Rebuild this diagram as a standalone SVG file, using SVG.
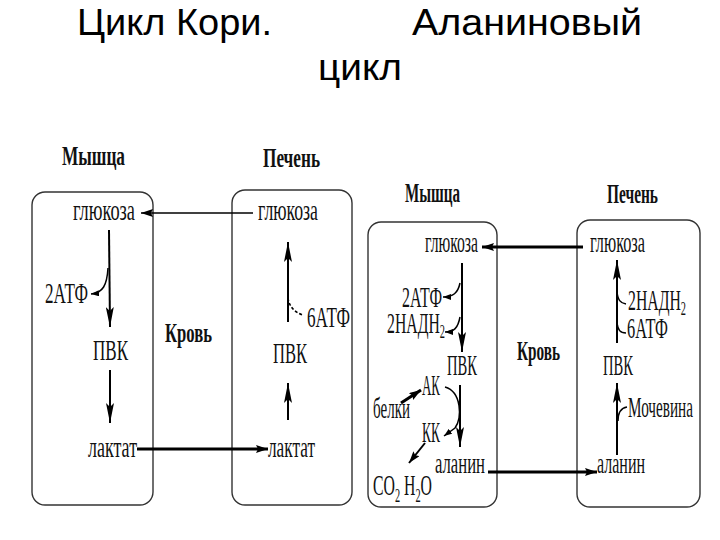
<svg xmlns="http://www.w3.org/2000/svg" width="720" height="540" viewBox="0 0 720 540">
<style>
.title{font-family:"Liberation Sans",Arial,sans-serif;font-size:36px;fill:#000}
.t{font-family:"Liberation Serif","Times New Roman",serif;font-size:29px;fill:#111}
.h{font-family:"Liberation Serif","Times New Roman",serif;font-size:28px;font-weight:bold;fill:#111}
.box{fill:none;stroke:#333;stroke-width:1.4}
.ln{fill:none;stroke:#000;stroke-width:2}
.thin{fill:none;stroke:#000;stroke-width:1.5}
.thick{fill:none;stroke:#000;stroke-width:3}
.sub{font-size:19px}
</style>
<defs>
<marker id="a1" viewBox="0 0 20 8" refX="20" refY="4" markerWidth="20" markerHeight="8" markerUnits="userSpaceOnUse" orient="auto"><path d="M0,0 L20,4 L0,8 L4,4 z" fill="#000"/></marker>
<marker id="a2" viewBox="0 0 12 8" refX="12" refY="4" markerWidth="12" markerHeight="8" markerUnits="userSpaceOnUse" orient="auto"><path d="M0,0 L12,4 L0,8 L2,4 z" fill="#000"/></marker>
<marker id="a3" viewBox="0 0 8 6" refX="8" refY="3" markerWidth="8" markerHeight="6" markerUnits="userSpaceOnUse" orient="auto"><path d="M0,0 L8,3 L0,6 z" fill="#000"/></marker>
</defs>
<rect width="720" height="540" fill="#fff"/>
<g id="title">
<text class="title" x="77" y="35" textLength="195" lengthAdjust="spacingAndGlyphs">Цикл Кори.</text>
<text class="title" x="412" y="35" textLength="230" lengthAdjust="spacingAndGlyphs">Аланиновый</text>
<text class="title" x="318" y="80" textLength="84" lengthAdjust="spacingAndGlyphs">цикл</text>
</g>
<!-- Cori cycle -->
<g id="cori-muscle">
<text class="h" x="62" y="165" textLength="63" lengthAdjust="spacingAndGlyphs">Мышца</text>
<rect class="box" x="32" y="192" width="121" height="313" rx="13"/>
<text class="t" x="73" y="220" textLength="62" lengthAdjust="spacingAndGlyphs">глюкоза</text>
<text class="t" x="45" y="303" textLength="43" lengthAdjust="spacingAndGlyphs">2АТФ</text>
<text class="t" x="93" y="360" textLength="35" lengthAdjust="spacingAndGlyphs">ПВК</text>
<text class="t" x="88" y="457" textLength="49" lengthAdjust="spacingAndGlyphs">лактат</text>
</g>
<g id="cori-liver">
<text class="h" x="263" y="167" textLength="57" lengthAdjust="spacingAndGlyphs">Печень</text>
<rect class="box" x="232" y="190" width="120" height="315" rx="13"/>
<text class="t" x="258" y="220" textLength="60" lengthAdjust="spacingAndGlyphs">глюкоза</text>
<text class="t" x="307" y="327" textLength="43" lengthAdjust="spacingAndGlyphs">6АТФ</text>
<text class="t" x="273" y="363" textLength="34" lengthAdjust="spacingAndGlyphs">ПВК</text>
<text class="t" x="268" y="457" textLength="47" lengthAdjust="spacingAndGlyphs">лактат</text>
</g>
<g id="cori-blood">
<text class="h" x="165" y="342" textLength="47" lengthAdjust="spacingAndGlyphs">Кровь</text>
</g>
<!-- Alanine cycle -->
<g id="ala-muscle">
<text class="h" x="405" y="202" textLength="55" lengthAdjust="spacingAndGlyphs">Мышца</text>
<rect class="box" x="368" y="222" width="129" height="285" rx="13"/>
<text class="t" x="425" y="252" textLength="53" lengthAdjust="spacingAndGlyphs">глюкоза</text>
<text class="t" x="402" y="307" textLength="40" lengthAdjust="spacingAndGlyphs">2АТФ</text>
<text class="t" x="387" y="333" textLength="58" lengthAdjust="spacingAndGlyphs">2НАДН<tspan class="sub" dy="5">2</tspan></text>
<text class="t" x="447" y="375" textLength="30" lengthAdjust="spacingAndGlyphs">ПВК</text>
<text class="t" x="422" y="395" textLength="18" lengthAdjust="spacingAndGlyphs">АК</text>
<text class="t" x="373" y="418" textLength="37" lengthAdjust="spacingAndGlyphs">белки</text>
<text class="t" x="422" y="442" textLength="18" lengthAdjust="spacingAndGlyphs">КК</text>
<text class="t" x="435" y="473" textLength="50" lengthAdjust="spacingAndGlyphs">аланин</text>
<text class="t" x="373" y="495" textLength="59" lengthAdjust="spacingAndGlyphs">CO<tspan class="sub" dy="7">2</tspan><tspan dy="-7"> H</tspan><tspan class="sub" dy="7">2</tspan><tspan dy="-7">O</tspan></text>
</g>
<g id="ala-liver">
<text class="h" x="607" y="203" textLength="51" lengthAdjust="spacingAndGlyphs">Печень</text>
<rect class="box" x="577" y="220" width="123" height="287" rx="13"/>
<text class="t" x="590" y="252" textLength="55" lengthAdjust="spacingAndGlyphs">глюкоза</text>
<text class="t" x="628" y="310" textLength="58" lengthAdjust="spacingAndGlyphs">2НАДН<tspan class="sub" dy="5">2</tspan></text>
<text class="t" x="627" y="338" textLength="41" lengthAdjust="spacingAndGlyphs">6АТФ</text>
<text class="t" x="603" y="375" textLength="30" lengthAdjust="spacingAndGlyphs">ПВК</text>
<text class="t" x="628" y="417" textLength="65" lengthAdjust="spacingAndGlyphs">Мочевина</text>
<text class="t" x="597" y="473" textLength="48" lengthAdjust="spacingAndGlyphs">аланин</text>
</g>
<g id="ala-blood">
<text class="h" x="517" y="360" textLength="43" lengthAdjust="spacingAndGlyphs">Кровь</text>
</g>
<g id="connectors">
<!-- Cori -->
<line class="thin" x1="253" y1="213" x2="141" y2="213" marker-end="url(#a2)"/>
<line class="ln" x1="109" y1="230" x2="110" y2="327" marker-end="url(#a1)"/>
<path class="thin" d="M108,268 C107,285 103,293 91,294" marker-end="url(#a3)"/>
<line class="ln" x1="110" y1="370" x2="110" y2="423" marker-end="url(#a1)"/>
<line class="thick" x1="137" y1="449" x2="268" y2="449" marker-end="url(#a2)"/>
<line class="ln" x1="288" y1="420" x2="288" y2="383" marker-end="url(#a1)"/>
<line class="ln" x1="288" y1="322" x2="288" y2="242" marker-end="url(#a1)"/>
<path class="thin" d="M288,298 Q290,311 303,315" stroke-dasharray="3,2"/>
<!-- Alanine -->
<line class="thick" x1="583" y1="247" x2="482" y2="247" marker-end="url(#a2)"/>
<line class="ln" x1="462" y1="263" x2="462" y2="352" marker-end="url(#a1)"/>
<path class="thin" d="M460,283 C458,293 453,297 443,297" marker-end="url(#a3)"/>
<path class="thin" d="M460,317 C458,328 454,332 445,332" marker-end="url(#a3)"/>
<line class="thick" x1="401" y1="403" x2="421" y2="390" marker-end="url(#a2)"/>
<path class="thin" d="M445,387 C462,392 462,418 455,428 L444,436" marker-end="url(#a3)"/>
<line class="ln" x1="460" y1="385" x2="460" y2="447" marker-end="url(#a1)"/>
<line class="ln" x1="425" y1="443" x2="409" y2="463" marker-end="url(#a2)"/>
<line class="thick" x1="488" y1="472" x2="597" y2="472" marker-end="url(#a2)"/>
<line class="ln" x1="617" y1="455" x2="617" y2="383" marker-end="url(#a1)"/>
<path class="thin" d="M627,407 C620,408 618,413 618,421"/>
<line class="ln" x1="617" y1="343" x2="617" y2="260" marker-end="url(#a1)"/>
<path class="thin" d="M617,292 C618,300 620,303 626,304"/>
<path class="thin" d="M617,323 C618,330 620,333 626,333"/>
</g>
</svg>
